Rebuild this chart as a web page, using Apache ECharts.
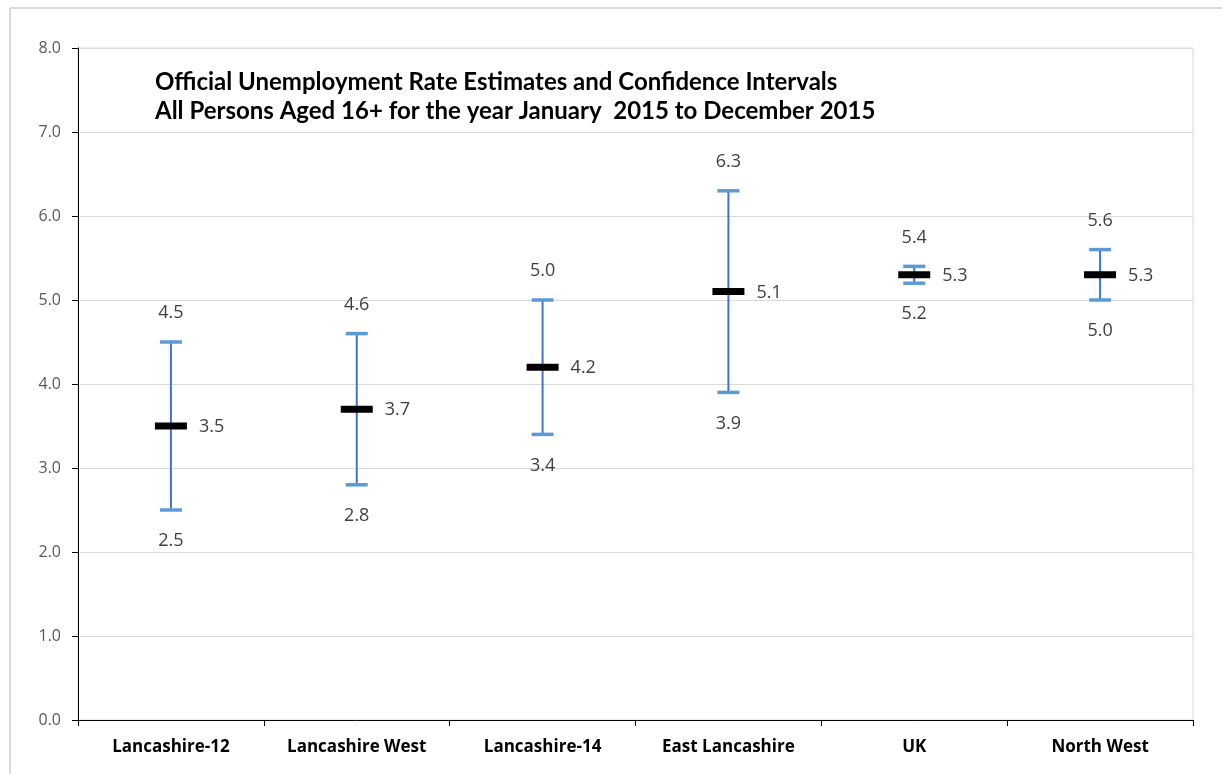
<!DOCTYPE html>
<html><head><meta charset="utf-8">
<script src="https://cdn.jsdelivr.net/npm/echarts@6/dist/echarts.min.js"></script>
<style>html,body{margin:0;padding:0;background:#fff;}#c{width:1222px;height:774px;}</style>
</head><body><div id="c"></div>
<script>
const categories = ['Lancashire-12','Lancashire West','Lancashire-14','East Lancashire','UK','North West'];
const estimates = [3.5, 3.7, 4.2, 5.1, 5.3, 5.3];
const lowerCI = [2.5, 2.8, 3.4, 3.9, 5.2, 5.0];
const upperCI = [4.5, 4.6, 5.0, 6.3, 5.4, 5.6];
const yTicks = [0,1,2,3,4,5,6,7,8];
const titleLines = ['Official Unemployment Rate Estimates and Confidence Intervals','All Persons Aged 16+ for the year January  2015 to December 2015'];

const chart = echarts.init(document.getElementById('c'));
const data = categories.map((c,i)=>[i, lowerCI[i], estimates[i], upperCI[i]]);
const lblFont = '18px "Open Sans", sans-serif';
chart.setOption({
  animation:false,
  backgroundColor:'#fff',
  graphic:[
    {type:'line', shape:{x1:10,y1:8,x2:1222,y2:8}, style:{stroke:'#D9D9D9',lineWidth:2}},
    {type:'line', shape:{x1:10,y1:8,x2:10,y2:774}, style:{stroke:'#D9D9D9',lineWidth:2}},
    {type:'text', left:155, top:68, style:{text:titleLines.join('\n'), font:'bold 24px Lato, sans-serif', lineHeight:29, fill:'#000'}}
  ],
  grid:{left:78, right:29, top:48, bottom:54, show:true, borderColor:'#D9D9D9', borderWidth:1},
  xAxis:{type:'category', data:categories, boundaryGap:true,
    axisLine:{lineStyle:{color:'#000',width:1}},
    axisTick:{show:true, interval:0, length:6, lineStyle:{color:'#000'}},
    axisLabel:{interval:0, color:'#000', fontWeight:'bold', fontSize:17, fontFamily:'"Open Sans", sans-serif', margin:19},
    splitLine:{show:false}},
  yAxis:{type:'value', min:yTicks[0], max:yTicks[yTicks.length-1], interval:1,
    axisLine:{show:true, lineStyle:{color:'#000',width:1}},
    axisTick:{show:true, length:6, lineStyle:{color:'#000'}},
    axisLabel:{color:'#595959', fontSize:16, fontFamily:'"Open Sans", sans-serif', margin:17, formatter:v=>v.toFixed(1)},
    splitLine:{show:true, lineStyle:{color:'#D9D9D9',width:1}}},
  series:[{
    type:'custom',
    data:data,
    renderItem:function(params, api){
      const x = api.value(0);
      const lo = api.coord([x, api.value(1)]);
      const md = api.coord([x, api.value(2)]);
      const hi = api.coord([x, api.value(3)]);
      const cx = lo[0];
      return {type:'group', children:[
        {type:'line', shape:{x1:cx,y1:hi[1],x2:cx,y2:lo[1]}, style:{stroke:'#4472C4',lineWidth:2}},
        {type:'line', shape:{x1:cx-11,y1:hi[1],x2:cx+11,y2:hi[1]}, style:{stroke:'#5B9BD5',lineWidth:3.5}},
        {type:'line', shape:{x1:cx-11,y1:lo[1],x2:cx+11,y2:lo[1]}, style:{stroke:'#5B9BD5',lineWidth:3.5}},
        {type:'rect', shape:{x:cx-16,y:md[1]-3.5,width:32,height:7}, style:{fill:'#000'}},
        {type:'text', x:cx+28, y:md[1]+1, style:{text:api.value(2).toFixed(1), font:lblFont, fill:'#404040', verticalAlign:'middle', align:'left'}},
        {type:'text', x:cx, y:hi[1]-29, style:{text:api.value(3).toFixed(1), font:lblFont, fill:'#404040', verticalAlign:'middle', align:'center'}},
        {type:'text', x:cx, y:lo[1]+31, style:{text:api.value(1).toFixed(1), font:lblFont, fill:'#404040', verticalAlign:'middle', align:'center'}}
      ]};
    }
  }]
});
</script></body></html>
